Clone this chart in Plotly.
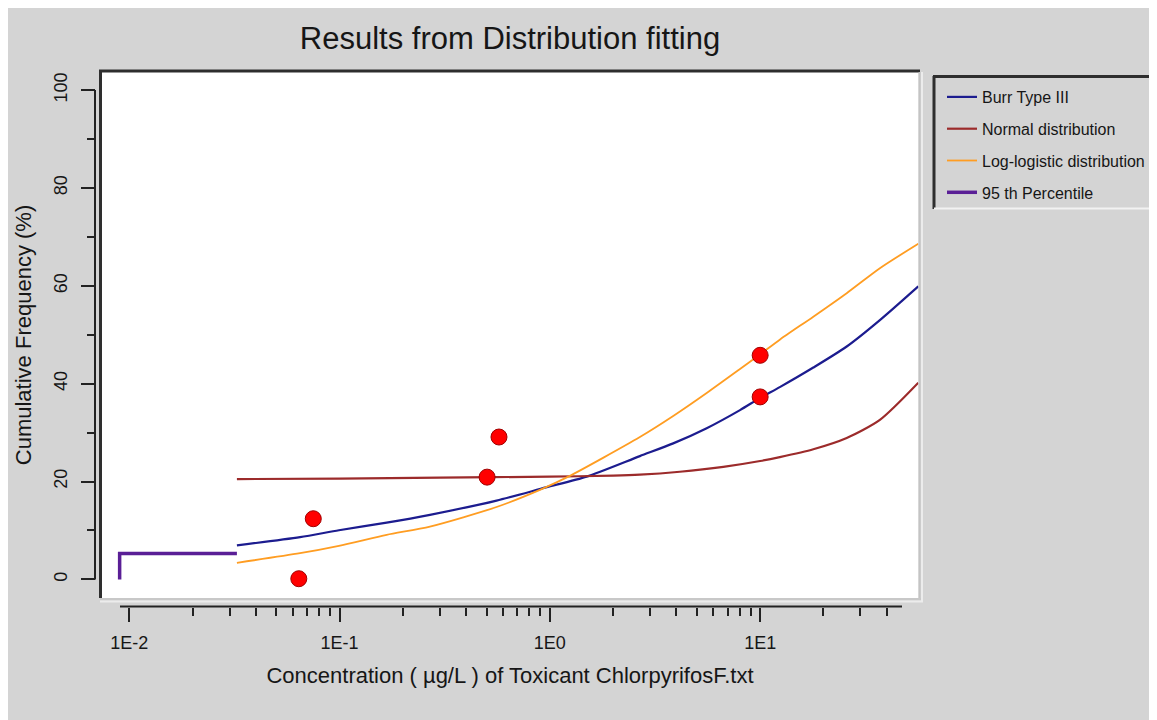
import plotly.graph_objects as go

# The page body adds an 8px white margin, so the figure is 8px smaller than the window
W, H = 1149, 712
OFF = 8

# ---------------- data ----------------
burr_x = [0.0325, 0.0649, 0.0993, 0.1675, 0.269, 0.558, 0.957, 1.496, 2.68, 3.86, 5.57, 8.02, 10.0, 12.4, 17.9, 25.8, 37.1, 56.5]
burr_y = [6.95, 8.65, 10.05, 11.6, 13.2, 16.1, 18.8, 21.0, 25.2, 27.8, 30.9, 34.6, 37.1, 39.3, 43.3, 47.6, 53.0, 59.9]

normal_x = [0.0325, 0.1, 0.3, 1.0, 2.0, 2.68, 4.15, 6.68, 10.0, 12.4, 17.9, 25.8, 37.1, 56.5]
normal_y = [20.5, 20.6, 20.8, 21.0, 21.2, 21.4, 22.0, 23.0, 24.2, 25.0, 26.6, 28.9, 32.6, 40.2]

loglog_x = [0.0325, 0.0649, 0.0993, 0.1675, 0.269, 0.558, 0.897, 1.224, 2.68, 3.86, 5.57, 8.02, 10.0, 12.4, 17.9, 25.8, 37.1, 56.5]
loglog_y = [3.4, 5.35, 6.85, 9.1, 10.8, 14.8, 18.3, 21.0, 29.1, 33.4, 38.1, 43.0, 46.0, 49.0, 53.7, 58.5, 63.6, 68.6]

pct_x = [0.009, 0.009, 0.0325]
pct_y = [0.0, 5.3, 5.3]

obs_x = [0.064, 0.075, 0.503, 0.573, 10.0, 10.0]
obs_y = [0.14, 12.4, 20.9, 29.1, 45.8, 37.3]

x_tickvals = [0.01, 0.1, 1, 10]
x_ticktext = ["1E-2", "1E-1", "1E0", "1E1"]
x_minor = [2e-2, 3e-2, 4e-2, 5e-2, 6e-2, 7e-2, 8e-2, 9e-2,
           0.2, 0.3, 0.4, 0.5, 0.6, 0.7, 0.8, 0.9,
           2, 3, 4, 5, 6, 7, 8, 9,
           20, 30, 40]
y_tickvals = [0, 20, 40, 60, 80, 100]
y_minor = [10, 30, 50, 70, 90]

# ---------------- helpers: window pixel -> paper ----------------
def fx(px):
    return (px - OFF) / W

def fy(py):
    return 1 - (py - OFF) / H

FONT = "Liberation Sans, Arial, sans-serif"
INK = "#161616"

fig = go.Figure()
fig.add_trace(go.Scatter(x=burr_x, y=burr_y, mode="lines", name="Burr Type III",
                         line=dict(color="#1c1c8f", width=2.2, shape="spline", smoothing=0.7),
                         legendgroup="a"))
fig.add_trace(go.Scatter(x=normal_x, y=normal_y, mode="lines", name="Normal distribution",
                         line=dict(color="#9c2b2b", width=2.2, shape="spline", smoothing=0.7),
                         legendgroup="b"))
fig.add_trace(go.Scatter(x=loglog_x, y=loglog_y, mode="lines", name="Log-logistic distribution",
                         line=dict(color="#ff9d22", width=1.8, shape="spline", smoothing=0.7),
                         legendgroup="c"))
fig.add_trace(go.Scatter(x=pct_x, y=pct_y, mode="lines", name="95 th Percentile",
                         line=dict(color="#5a1f96", width=3.5),
                         legendgroup="d"))
fig.add_trace(go.Scatter(x=obs_x, y=obs_y, mode="markers", name="Observed", showlegend=False,
                         marker=dict(color="#ff0000", size=16, line=dict(color="#a00000", width=1))))

shapes = []
dark = "#2e2e2e"
# plot-area frame (3D bevel)
shapes += [
    dict(type="line", xref="paper", yref="paper", x0=fx(99), x1=fx(920), y0=fy(71), y1=fy(71), line=dict(color=dark, width=3)),
    dict(type="line", xref="paper", yref="paper", x0=fx(100.5), x1=fx(100.5), y0=fy(70), y1=fy(598), line=dict(color=dark, width=3)),
    dict(type="line", xref="paper", yref="paper", x0=fx(919.5), x1=fx(919.5), y0=fy(72), y1=fy(599), line=dict(color="#c4c4c4", width=2)),
    dict(type="line", xref="paper", yref="paper", x0=fx(922), x1=fx(922), y0=fy(72), y1=fy(601), line=dict(color="#ececec", width=2)),
    dict(type="line", xref="paper", yref="paper", x0=fx(100), x1=fx(921), y0=fy(599), y1=fy(599), line=dict(color="#c8c8c8", width=2)),
    dict(type="line", xref="paper", yref="paper", x0=fx(100), x1=fx(923), y0=fy(601.5), y1=fy(601.5), line=dict(color="#ececec", width=2)),
]
# axis lines (offset from the plot area)
shapes.append(dict(type="line", xref="paper", yref="paper", x0=fx(120), x1=fx(902), y0=fy(606.5), y1=fy(606.5),
                   line=dict(color="#222", width=2)))
shapes.append(dict(type="line", xref="paper", yref="y", x0=fx(95), x1=fx(95), y0=0, y1=100,
                   line=dict(color="#222", width=2)))
# legend box (bevel)
shapes += [
    dict(type="line", xref="paper", yref="paper", x0=fx(933), x1=fx(1153), y0=fy(76.5), y1=fy(76.5), line=dict(color=dark, width=3)),
    dict(type="line", xref="paper", yref="paper", x0=fx(934), x1=fx(934), y0=fy(76), y1=fy(209), line=dict(color=dark, width=3)),
    dict(type="line", xref="paper", yref="paper", x0=fx(934), x1=fx(1153), y0=fy(208.5), y1=fy(208.5), line=dict(color="#f2f2f2", width=2)),
    dict(type="line", xref="paper", yref="paper", x0=fx(1152.5), x1=fx(1152.5), y0=fy(78), y1=fy(209), line=dict(color="#f2f2f2", width=2)),
]

fig.update_layout(
    width=W, height=H,
    margin=dict(l=0, r=0, t=0, b=0),
    paper_bgcolor="#d4d4d4",
    plot_bgcolor="white",
    font=dict(family=FONT, color=INK),
    title=dict(text="Results from Distribution fitting", x=fx(510), xanchor="center",
               y=fy(38), yanchor="middle", font=dict(size=31, color=INK, family=FONT)),
    xaxis=dict(type="log", domain=[fx(101.5), fx(918.5)], range=[-2.132, 1.753],
               anchor="free", position=fy(606.5), automargin=False,
               showline=False, showgrid=False, zeroline=False,
               ticks="outside", ticklen=14, tickwidth=2, tickcolor="#222",
               tickvals=x_tickvals, ticktext=x_ticktext, tickfont=dict(size=18, color=INK),
               ticklabelstandoff=6,
               minor=dict(tickvals=x_minor, ticks="outside", ticklen=8, tickwidth=2, tickcolor="#222", showgrid=False),
               title=dict(text="Concentration ( µg/L ) of Toxicant ChlorpyrifosF.txt",
                          font=dict(size=22, color=INK), standoff=15)),
    yaxis=dict(domain=[fy(598), fy(72)], range=[-3.8, 103.7],
               anchor="free", position=fx(95), automargin=False,
               showline=False, showgrid=False, zeroline=False,
               ticks="outside", ticklen=14, tickwidth=2, tickcolor="#222",
               tickvals=y_tickvals, tickangle=-90, tickfont=dict(size=18, color=INK),
               ticklabelstandoff=7,
               minor=dict(tickvals=y_minor, ticks="outside", ticklen=8, tickwidth=2, tickcolor="#222", showgrid=False),
               title=dict(text="Cumulative Frequency (%)", font=dict(size=22, color=INK), standoff=12)),
    showlegend=True,
    legend=dict(x=fx(942), y=fy(80), xanchor="left", yanchor="top",
                bgcolor="rgba(0,0,0,0)", borderwidth=0,
                font=dict(size=16, color=INK, family=FONT),
                tracegroupgap=8, itemclick=False, itemdoubleclick=False),
    shapes=shapes,
)

fig.write_html("out.html")
